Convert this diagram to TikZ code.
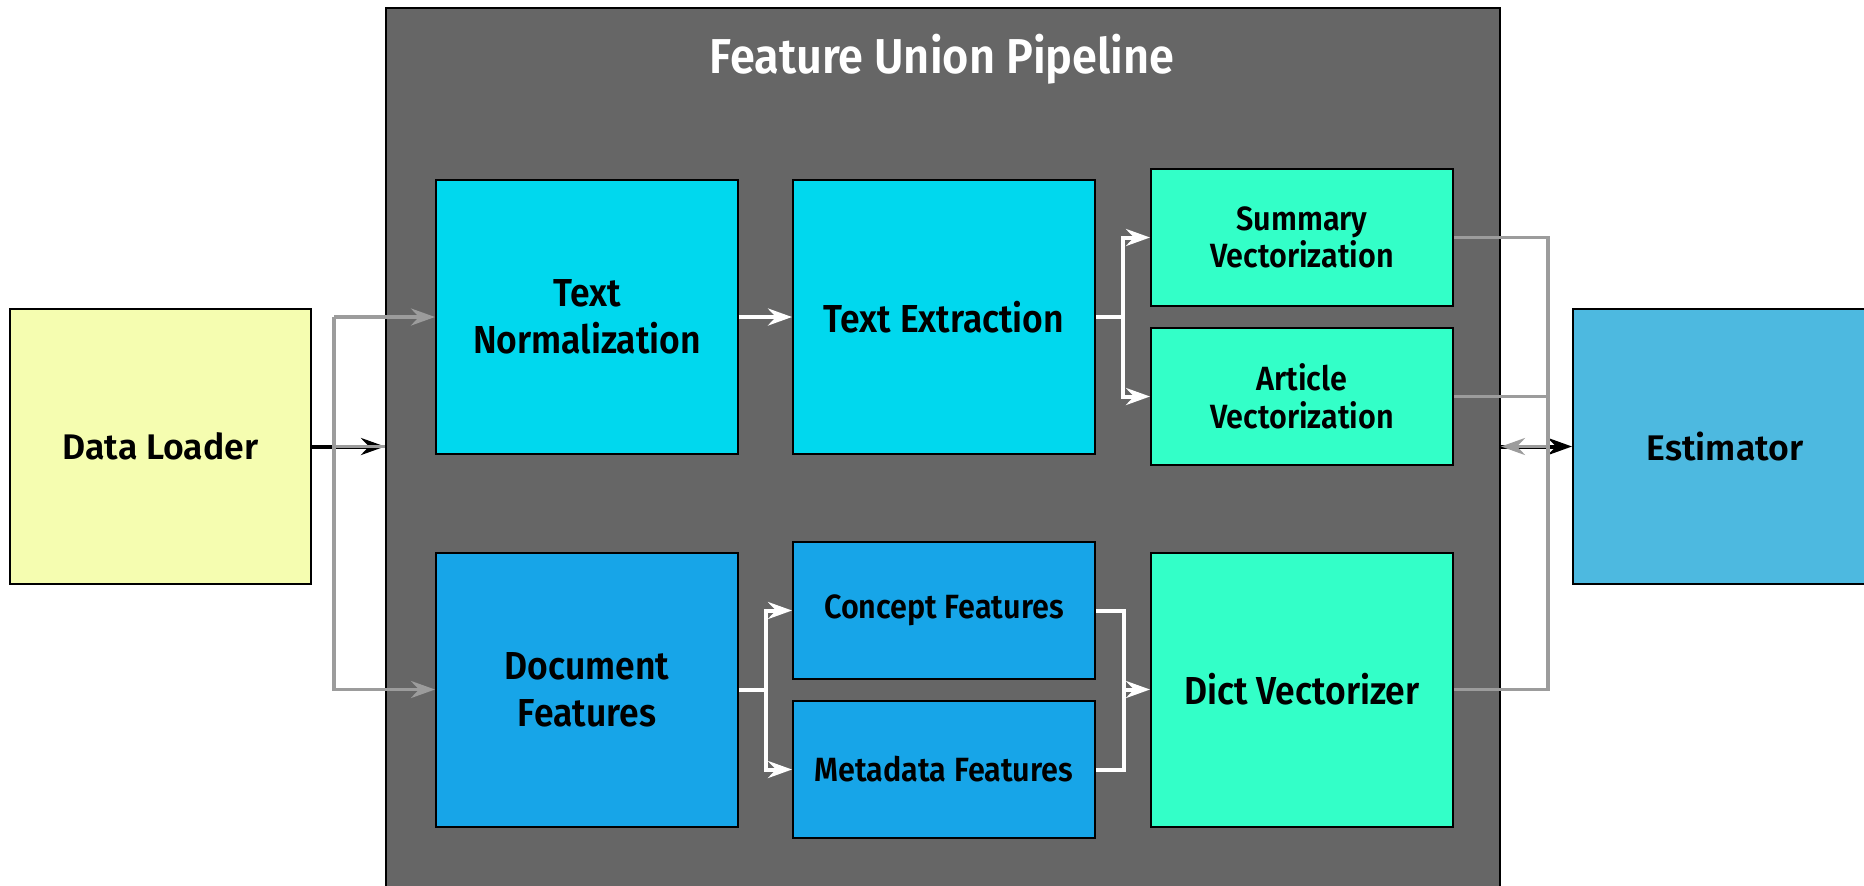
\documentclass[tikz,border=0pt]{standalone}
\usepackage{fontspec}
\setmainfont{Fira Sans}
\newfontfamily\lblfont{Fira Sans SemiBold}
\newfontfamily\lblcond{Fira Sans SemiBold}[FakeStretch=0.91]
\newfontfamily\titlecond{Fira Sans SemiBold}[FakeStretch=0.92]
\usetikzlibrary{arrows.meta}

\definecolor{pipegray}{HTML}{666666}
\definecolor{cyanbox}{HTML}{00D8EE}
\definecolor{bluebox}{HTML}{17A5E8}
\definecolor{greenbox}{HTML}{33FFC8}
\definecolor{yellowbox}{HTML}{F5FDB0}
\definecolor{estbox}{HTML}{4DB9E0}
\definecolor{linkgray}{HTML}{9C9C9C}

\tikzset{
  box/.style={draw=black, line width=1pt, rectangle, inner sep=0pt, align=center, text=black},
  tallbox/.style={box, minimum width=151pt, minimum height=137pt},
  flatbox/.style={box, minimum width=151pt, minimum height=68.5pt},
  biglabel/.style={font=\lblcond\fontsize{19.5pt}{23.5pt}\selectfont},
  smalllabel/.style={font=\lblcond\fontsize{16.8pt}{18.8pt}\selectfont},
  outlabel/.style={font=\lblfont\fontsize{17.8pt}{21pt}\selectfont},
  headtip/.style={-{Stealth[length=12pt,width=8.5pt,inset=4pt]}},
  wlink/.style={draw=white, line width=2pt},
  glink/.style={draw=linkgray, line width=1.8pt},
  blink/.style={draw=black, line width=2pt},
}

\begin{document}
\begin{tikzpicture}[x=0.5pt,y=-0.5pt]
\useasboundingbox (0,0) rectangle (1864,885);
\clip (0,0) rectangle (1864,885);

% outer stages
\node[box, fill=yellowbox, minimum width=150.5pt, minimum height=137.5pt, outlabel] (dl) at (160.5,446.5) {Data Loader};
\node[box, fill=estbox, minimum width=152pt, minimum height=137.5pt, outlabel] (est) at (1725,446.5) {Estimator};

% pipeline container
\node[box, fill=pipegray, minimum width=557pt, minimum height=446.5pt, anchor=north west] (pipe) at (385,7) {};
\node[text=white, font=\titlecond\fontsize{24.5pt}{28pt}\selectfont] (title) at (942,59) {Feature Union Pipeline};

% pipeline stages
\node[tallbox, fill=cyanbox, biglabel] (tn) at (587,317) {Text\\Normalization};
\node[tallbox, fill=cyanbox, biglabel] (te) at (944,317) {Text Extraction};
\node[flatbox, fill=greenbox, smalllabel] (sv) at (1302,237.5) {Summary\\Vectorization};
\node[flatbox, fill=greenbox, smalllabel] (av) at (1302,396.5) {Article\\Vectorization};
\node[tallbox, fill=bluebox, biglabel] (df) at (587,689.5) {Document\\Features};
\node[flatbox, fill=bluebox, smalllabel] (cf) at (944,610.5) {Concept Features};
\node[flatbox, fill=bluebox, smalllabel] (mf) at (944,769.5) {Metadata Features};
\node[tallbox, fill=greenbox, biglabel] (dv) at (1302,689.5) {Dict Vectorizer};

% branch points
\coordinate (split) at (334,446.5);
\coordinate (forkA) at (1123,317);
\coordinate (forkB) at (766,689.5);
\coordinate (forkC) at (1124,689.5);
\coordinate (merge) at (1548,446.5);

% data flow into and out of the pipeline
\draw[blink, headtip] (dl.east) -- (dl.east -| pipe.west);
\draw[blink, headtip] (est.west -| pipe.east) -- (est.west);

% fan-out from the loader
\draw[glink, headtip] (split |- tn) -- (tn.west);
\draw[glink, headtip] (split |- tn) -- (split |- df) -- (df.west);
\draw[glink] (split) -- (split -| pipe.west);

% text branch
\draw[wlink, headtip] (tn.east) -- (te.west);
\draw[wlink] (te.east) -- (forkA);
\draw[wlink, headtip] (forkA |- av) -- (forkA |- sv) -- (sv.west);
\draw[wlink, headtip] (forkA |- sv) -- (forkA |- av) -- (av.west);

% document branch
\draw[wlink] (df.east) -- (forkB);
\draw[wlink, headtip] (forkB |- mf) -- (forkB |- cf) -- (cf.west);
\draw[wlink, headtip] (forkB |- cf) -- (forkB |- mf) -- (mf.west);
\draw[wlink] (cf.east) -- (forkC |- cf) -- (forkC |- mf) -- (mf.east);
\draw[wlink, headtip] (forkC) -- (dv.west);

% feature union back to the estimator
\draw[glink] (sv.east) -- (merge |- sv) -- (merge |- dv) -- (dv.east);
\draw[glink] (av.east) -- (merge |- av);
\draw[glink, headtip] (merge) -- (merge -| pipe.east);
\end{tikzpicture}
\end{document}
